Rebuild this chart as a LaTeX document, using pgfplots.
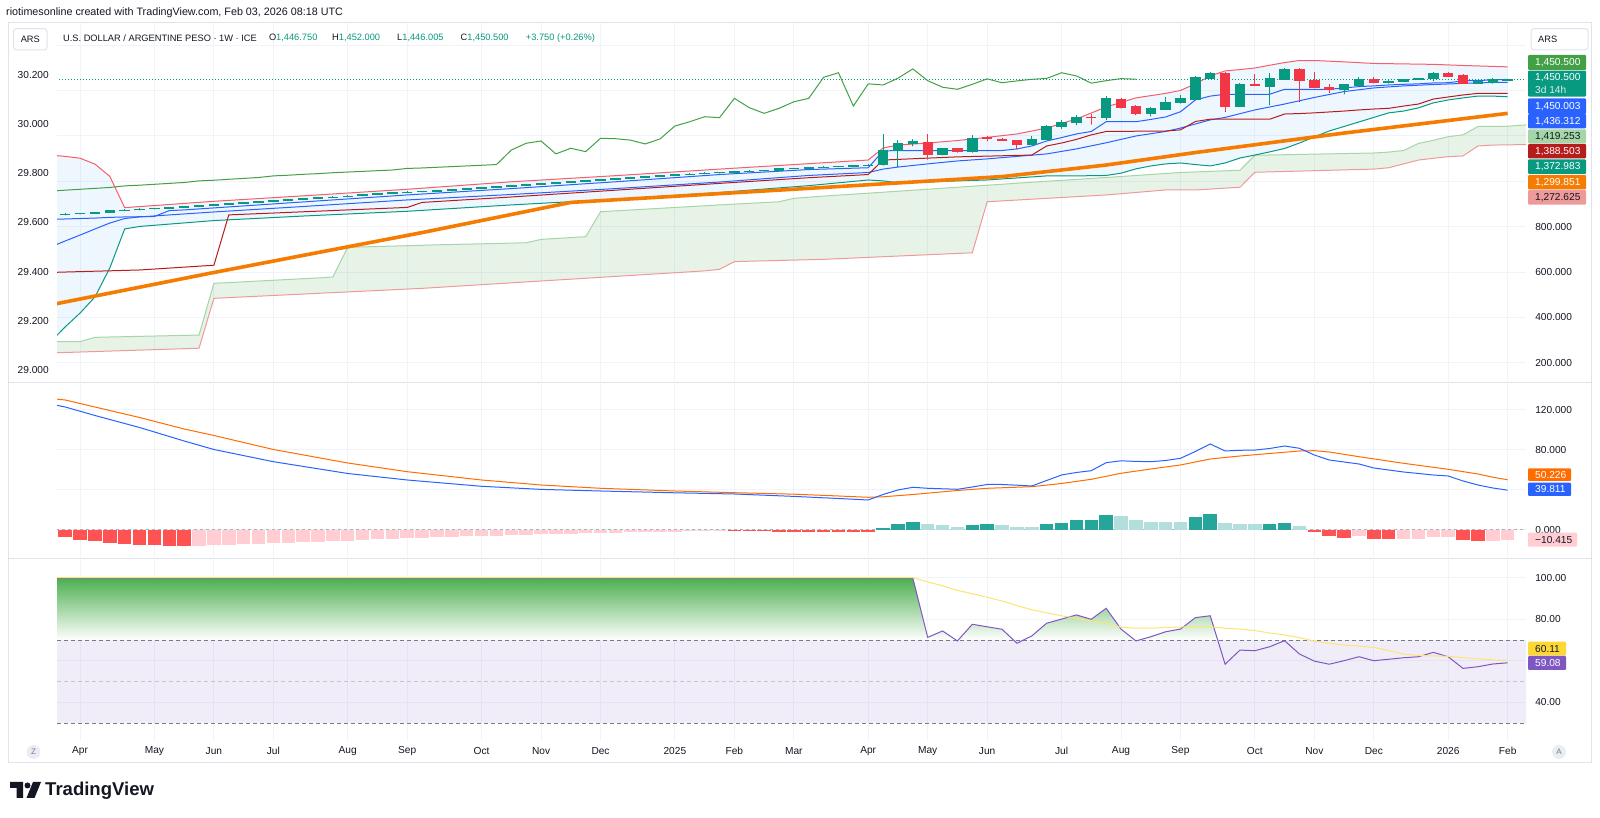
\documentclass[border=0pt]{standalone}
\usepackage{fontspec}
\setmainfont{Liberation Sans}
\usepackage{pgfplots}
\usepackage{pgfplotstable}
\pgfplotsset{compat=1.18}

\definecolor{tvtext}{HTML}{131722}
\definecolor{tvgrid}{HTML}{F0F3FA}
\definecolor{tvborder}{HTML}{E0E3EB}
\definecolor{upc}{HTML}{089981}
\definecolor{dnc}{HTML}{F23645}
\definecolor{tvblue}{HTML}{2962FF}
\definecolor{bbblue}{HTML}{2196F3}
\definecolor{kijun}{HTML}{B71C1C}
\definecolor{chikou}{HTML}{43A047}
\definecolor{spanA}{HTML}{A5D6A7}
\definecolor{spanB}{HTML}{EF9A9A}
\definecolor{smaorange}{HTML}{F57C00}
\definecolor{macdorange}{HTML}{FF6D00}
\definecolor{histup}{HTML}{26A69A}
\definecolor{histupl}{HTML}{B2DFDB}
\definecolor{histdn}{HTML}{FF5252}
\definecolor{histdnl}{HTML}{FFCDD2}
\definecolor{rsipurple}{HTML}{7E57C2}
\definecolor{rsiyellow}{HTML}{FDD835}
\definecolor{rsigreen}{HTML}{4CAF50}
\definecolor{lvlgray}{HTML}{787B86}

\newcommand{\tvfont}{\fontsize{10.2}{12}\selectfont}
\newcommand{\hdrfont}{\fontsize{9.3}{11}\selectfont}

% weekly candles, k = 0 is the week of 25 Mar 2024
\pgfplotstableread{
k o h l c
0 853 858.5 851.5 857
1 857 862.5 855.5 861
2 861 866.5 859.5 865
3 865 873.5 863.5 872
4 872 876.5 870.5 875
5 875 880.5 873.5 879
6 879 884.5 877.5 883
7 883 888.5 881.5 887
8 887 892.5 885.5 891
9 891 896.5 889.5 895
10 895 900.5 893.5 899
11 899 904.5 897.5 903
12 903 908.5 901.5 907
13 907 915.5 905.5 914
14 914 918.5 912.5 917
15 917 922.5 915.5 921
16 921 926.5 919.5 925
17 925 930.5 923.5 929
18 929 934.5 927.5 933
19 933 938.5 931.5 937
20 937 944.5 935.5 943
21 943 950.5 941.5 949
22 949 952.5 947.5 951
23 951 955.5 949.5 954
24 954 958.5 952.5 957
25 957 962.5 955.5 961
26 961 966.5 959.5 965
27 965 970.5 963.5 969
28 969 974.5 967.5 973
29 973 981.5 971.5 980
30 980 984.5 978.5 983
31 983 988.5 981.5 987
32 987 992.5 985.5 991
33 991 996.5 989.5 995
34 995 1003.5 993.5 1002
35 1002 1006.5 1000.5 1005
36 1005 1010.5 1003.5 1009
37 1009 1014.5 1007.5 1013
38 1013 1018.5 1011.5 1017
39 1017 1025.5 1015.5 1024
40 1024 1028.5 1022.5 1027
41 1027 1032.5 1025.5 1031
42 1031 1035.5 1029.5 1034
43 1034 1039.5 1032.5 1038
44 1038 1042.5 1036.5 1041
45 1041 1045.5 1039.5 1044
46 1044 1048.5 1042.5 1047
47 1047 1051.5 1045.5 1050
48 1050 1058.5 1048.5 1057
49 1057 1060.5 1055.5 1059
50 1059 1063.5 1057.5 1062
51 1062 1066.5 1060.5 1065
52 1065 1069.5 1063.5 1068
53 1068 1072.5 1066.5 1071
54 1071 1075.5 1069.5 1074
55 1074 1209 1070 1138
56 1135 1182 1065 1168
57 1168 1186 1156 1178
58 1172 1209 1097 1121
59 1121 1149 1116 1146
60 1146 1148 1128 1131
61 1131 1204 1128 1190
62 1194 1200 1178 1188
63 1188 1190 1180 1182
64 1182 1184 1141 1165
65 1165 1200 1162 1187
66 1186 1249 1183 1244
67 1241 1271 1234 1263
68 1259 1293 1249 1285
69 1285 1296 1252 1281
70 1281 1377 1271 1366
71 1363 1366 1322 1325
72 1332 1338 1293 1300
73 1300 1327 1288 1322
74 1318 1371 1315 1351
75 1347 1381 1345 1366
76 1362 1465 1360 1459
77 1455 1484 1452 1479
78 1479 1481 1307 1332
79 1332 1432 1330 1430
80 1430 1474 1421 1425
81 1421 1477 1337 1455
82 1450 1498 1448 1496
83 1496 1498 1351 1444
84 1447 1484 1412 1415
85 1418 1428 1391 1406
86 1406 1430 1385 1428
87 1425 1459 1421 1452
88 1452 1459 1433 1435
89 1435 1445 1433 1443
90 1442 1452 1440 1450
91 1452 1457 1450 1454
92 1455 1481 1444 1479
93 1479 1481 1462 1465
94 1469 1474 1430 1433
95 1433 1446 1430 1444
96 1436 1456 1432 1453
97 1446.75 1452 1446.005 1450.5
}\candles

% Bollinger bands (20)
\pgfplotstableread{
k v
-1 1116
0 1110
1 1102
2 1076
3 1022
4 884
10 912
16 936
23 965
30 998
37 1025
44 1054
50 1078
54 1094
55 1147
56 1160
58 1169
60 1180
62 1194
64 1209
66 1235
68 1275
70 1328
72 1368
74 1388
75 1401
76 1430
77 1465
78 1487
79 1493
80 1500
82 1524
83 1533
84 1533
86 1527
88 1520
90 1518
92 1516
94 1511
96 1507
97 1505
}\bbup

\pgfplotstableread{
k v
-1 710
0 737
1 763
2 790
3 816
4 836
5 843
10 865
16 889
23 918
30 942
37 968
44 997
50 1026
54 1039
55 1054
56 1063
58 1077
60 1090
62 1099
64 1110
66 1121
68 1143
70 1170
72 1200
74 1220
75 1235
76 1253
77 1271
78 1282
80 1315
82 1341
84 1370
86 1396
88 1412
90 1421
92 1427
94 1432
96 1436
97 1436.312
}\bbbasis

\pgfplotstableread{
k v
-1 291
0 358
1 419
2 490
3 618
4 790
5 801
10 827
16 847
23 868
30 896
37 921
44 951
50 981
54 1006
55 1002
56 994
58 997
60 1002
62 1006
64 1015
66 1024
68 1024
70 1026
71 1036
72 1055
73 1068
74 1077
75 1081
76 1074
77 1068
78 1081
79 1103
80 1116
81 1130
82 1145
83 1169
84 1196
85 1222
86 1242
87 1262
88 1282
89 1302
90 1310
91 1324
92 1346
93 1359
94 1368
95 1376
96 1376
97 1372.983
}\bblow

% band outline: upper band forward, lower band back
\pgfplotstableread{
k v
-1 1116
0 1110
1 1102
2 1076
3 1022
4 884
10 912
16 936
23 965
30 998
37 1025
44 1054
50 1078
54 1094
55 1147
56 1160
58 1169
60 1180
62 1194
64 1209
66 1235
68 1275
70 1328
72 1368
74 1388
75 1401
76 1430
77 1465
78 1487
79 1493
80 1500
82 1524
83 1533
84 1533
86 1527
88 1520
90 1518
92 1516
94 1511
96 1507
97 1505
97 1372.983
96 1376
95 1376
94 1368
93 1359
92 1346
91 1324
90 1310
89 1302
88 1282
87 1262
86 1242
85 1222
84 1196
83 1169
82 1145
81 1130
80 1116
79 1103
78 1081
77 1068
76 1074
75 1081
74 1077
73 1068
72 1055
71 1036
70 1026
68 1024
66 1024
64 1015
62 1006
60 1002
58 997
56 994
55 1002
54 1006
50 981
44 951
37 921
30 896
23 868
16 847
10 827
5 801
4 790
3 618
2 490
1 419
0 358
-1 291
}\bbpoly

% Ichimoku
\pgfplotstableread{
k v
-1 832
0 834
1 836
2 838
3 841
4 843
5 844
6 845
7 871
8 874
23 940
30 968
37 998
44 1030
50 1052
54 1060
55 1134
56 1136
63 1136
64 1143
65 1156
66 1178
67 1193
68 1209
69 1220
70 1263
72 1263
73 1273
74 1284
75 1307
76 1359
77 1376
78 1384
81 1384
82 1406
85 1406
86 1412
87 1418
88 1421
89 1425
90 1428
91 1430
92 1434
93 1435
94 1443
95 1445
96 1447
97 1450.003
}\tenkantab

\pgfplotstableread{
k v
-1 598
0 600
5 609
10 630
11 852
23 885
24 907
30 931
37 961
44 991
50 1016
54 1030
55 1094
60 1108
65 1116
66 1156
67 1169
68 1185
69 1205
70 1220
74 1222
75 1227
76 1264
77 1274
81 1274
82 1297
83 1299
84 1302
85 1306
86 1310
87 1315
88 1319
89 1322
90 1332
91 1341
92 1363
93 1372
94 1381
95 1388
96 1388.5
97 1388.503
}\kijuntab

\pgfplotstableread{
k v
-1 293
1 293
2 312
9 322
10 550
17 574
18 578
19 709
24 718
25 720
31 729
32 744
35 756
36 866
44 896
48 910
49 925
51 935
55 952
60 974
65 996
70 1017
75 1039
79 1049
80 1115
88 1125
89 1129
90 1136
91 1167
92 1181
93 1197
94 1205
95 1242
96 1243
97 1243
98 1248
99 1253
}\spanAtab

\pgfplotstableread{
k v
-1 243
9 264
10 484
24 528
43 605
44 612
45 646
51 656
61 685
62 910
70 940
74 962
76 962
79 974
80 1040
88 1054
89 1060
91 1094
93 1109
94 1112
95 1156
96 1160
99 1163
}\spanBtab

% cloud outline: leading span A forward, leading span B back
\pgfplotstableread{
k v
-1 293
1 293
2 312
9 322
10 550
17 574
18 578
19 709
24 718
25 720
31 729
32 744
35 756
36 866
44 896
48 910
49 925
51 935
55 952
60 974
65 996
70 1017
75 1039
79 1049
80 1115
88 1125
89 1129
90 1136
91 1167
92 1181
93 1197
94 1205
95 1242
96 1243
97 1243
98 1248
99 1253
99 1163
96 1160
95 1156
94 1112
93 1109
91 1094
89 1060
88 1054
80 1040
79 974
76 962
74 962
70 940
62 910
61 685
51 656
45 646
44 612
43 605
24 528
10 484
9 264
-1 243
}\cloudpoly

% long moving average
\pgfplotstableread{
k v
-1 455
10 598
24 774
34 907
51 973
63 1021
70 1072
76 1127
86 1213
97 1299.851
}\smatab

% MACD
\pgfplotstableread{
k v
-1 126
0 123
2 114.5
5 102.5
8 89
10 80.5
14 68.3
19 56.5
23 50
28 43.7
32 40.6
36 39
41 37.2
45 36
49 33.6
52 31.5
54 30
55 35.5
56 40
57 42.7
58 41.7
59 41.2
60 40.7
61 43
62 45.5
63 45.5
64 44.8
65 44
66 49.5
67 55
68 57.5
69 59.3
70 67.3
71 69.2
72 68.6
73 68.3
74 69.5
75 71.7
76 78.5
77 86
78 79
79 79.7
80 79.9
81 81.5
82 84
83 81.7
84 75
85 70
86 68
87 66
88 62
89 60
90 58
91 56.5
92 55
93 54
94 49
95 45
96 42
97 39.811
}\macdtab

\pgfplotstableread{
k v
-1 131.5
0 130
2 123
5 112.5
8 101
10 94.5
14 80.5
19 67
23 58.3
28 50
32 45
36 41.7
41 39
45 37.3
49 35.8
52 34
54 32.7
55 33.2
57 35.5
60 39.5
62 41.7
65 43.3
67 46.5
69 50.7
71 56.7
73 61
75 65
77 71
79 74
81 76.5
83 79
84 79.3
85 78
87 73.3
90 66.7
93 60.7
95 56
96 52.8
97 50.226
}\signaltab

% histogram: cls 1 rising above zero, 2 falling above zero, 3 falling below zero, 4 rising below zero
\pgfplotstableread{
k h cls
0 -7.3 3
1 -9.7 3
2 -11.3 3
3 -13 3
4 -14 3
5 -15 3
6 -15.5 3
7 -15.7 3
8 -15.9 3
9 -15.6 4
10 -15.3 4
11 -15 4
12 -14.3 4
13 -14 4
14 -13.3 4
15 -13 4
16 -12.3 4
17 -11.7 4
18 -11 4
19 -10.7 4
20 -10 4
21 -9.3 4
22 -8.7 4
23 -8.3 4
24 -7.7 4
25 -7.3 4
26 -6.7 4
27 -6.3 4
28 -6 4
29 -5.7 4
30 -5.3 4
31 -4.7 4
32 -4.3 4
33 -4 4
34 -3.7 4
35 -3.3 4
36 -3 4
37 -2.7 4
38 -2.3 4
39 -2 4
40 -1.9 4
41 -1.7 4
42 -1.3 4
43 -1.2 4
44 -1.0 4
45 -1.3 3
46 -1.4 3
47 -1.5 3
48 -1.6 3
49 -1.7 3
50 -1.8 3
51 -1.9 3
52 -2.0 3
53 -2.1 3
54 -2.2 3
55 2 1
56 6 1
57 8.3 1
58 5.7 2
59 4.7 2
60 3 2
61 4.7 1
62 5.7 1
63 4.7 2
64 3.2 2
65 3 2
66 5.7 1
67 7.3 1
68 10 1
69 10.2 1
70 14.7 1
71 13.7 2
72 10 2
73 8.3 2
74 8.2 2
75 8.1 2
76 13 1
77 15.7 1
78 7.3 2
79 6.3 2
80 5.7 2
81 6 1
82 6.7 1
83 4 2
84 -2 3
85 -6.3 3
86 -8 3
87 -6.3 4
88 -9 3
89 -9.1 3
90 -8.9 4
91 -8.8 4
92 -7 4
93 -6.8 4
94 -9.7 3
95 -11.2 3
96 -10.7 4
97 -10.415 4
}\histtab

% RSI (14) and its moving average
\pgfplotstableread{
k v
-1 99.8
57 99.8
58 71.3
59 74.4
60 69.6
61 77.6
62 76.4
63 75.2
64 68.5
65 72.0
66 78.1
67 80.1
68 82.1
69 80.0
70 85.3
71 75.3
72 69.6
73 71.6
74 74.0
75 75.3
76 80.8
77 81.7
78 58.4
79 65.2
80 64.9
81 66.8
82 69.7
83 63.3
84 59.9
85 58.4
86 60.1
87 62.0
88 60.1
89 60.8
90 61.5
91 62.0
92 64.1
93 62.0
94 56.4
95 57.2
96 58.5
97 59.08
}\rsitab

% part of the RSI above the 70 level, closed along that level
\pgfplotstableread{
k v
-1 70
-1 99.8
57 99.8
58 71.3
59 74.4
59.92 70
60.05 70
61 77.6
62 76.4
63 75.2
63.78 70
64.43 70
65 72
66 78.1
67 80.1
68 82.1
69 80
70 85.3
71 75.3
71.93 70
72.2 70
73 71.6
74 74
75 75.3
76 80.8
77 81.7
77.5 70
}\rsizone

\pgfplotstableread{
k v
-1 100
57 100
58 98
59 96.1
60 93.9
61 92.3
62 90.6
63 88.8
64 86.6
65 84.6
66 83.1
67 81.7
68 80.5
69 79.1
70 78.2
71 76.2
72 75.7
73 75.7
74 76.1
75 76.3
76 76.5
77 76.4
78 75.7
79 75.3
80 74.6
81 73.4
82 72.5
83 71.2
84 69.5
85 68.4
86 67.6
87 67.1
88 66.5
89 65
90 63.3
91 62.6
92 62.4
93 62.2
94 61.6
95 61
96 60.5
97 60.11
}\rsimatab

\pgfplotsset{
  tvpane/.style={
    scale only axis, width=1469bp, xmin=-0.551, xmax=98.24,
    anchor=south west,
    axis line style={draw=none}, tick style={draw=none}, major tick length=0pt,
    xtick={1,6,10,14,19,23,28,32,36,41,45,49,54,58,62,67,71,75,80,84,88,93,97},
    xticklabels={},
    grid=major, major grid style={draw=tvgrid, line width=1bp},
    ytick pos=right, yticklabel pos=right,
    yticklabel style={font=\tvfont, text=tvtext, anchor=west, xshift=9bp, inner sep=0pt},
  },
  % invisible carrier points for candle wicks
  hidden marks/.style={only marks, mark=*, mark size=0.01pt, mark options={draw=none, fill=none}},
}

% value box on the price scale: fill, text colour, top, bottom, right edge, text
\newcommand{\pbox}[6]{%
  \fill[#1, rounded corners=1bp] (1528,{817-#3}) rectangle (#5,{817-#4});
  \node[anchor=west, inner sep=0pt, text=#2, font=\tvfont] at (1535,{817-(#3+#4)/2}) {#6};}

\begin{document}
\begin{tikzpicture}[x=1bp,y=1bp]
\path[use as bounding box, fill=white] (0,0) rectangle (1600,817);

% chart frame and pane separators
\draw[tvborder, line width=1bp] (8.5,54) rectangle (1591,794);
\draw[tvborder, line width=1bp] (8.5,434) -- (1591,434);
\draw[tvborder, line width=1bp] (8.5,258) -- (1591,258);

% left overlay scale
\begin{axis}[scale only axis, width=1469bp, height=360bp, at={(57bp,434bp)}, anchor=south west,
  xmin=-0.551, xmax=98.24, ymin=28.947, ymax=30.4115,
  axis line style={draw=none}, tick style={draw=none}, major tick length=0pt,
  xtick=\empty, ytick={29,29.2,29.4,29.6,29.8,30,30.2},
  yticklabels={29.000,29.200,29.400,29.600,29.800,30.000,30.200},
  ytick pos=left, yticklabel pos=left,
  yticklabel style={font=\tvfont, text=tvtext, anchor=east, xshift=-8bp, inner sep=0pt}]
\addplot[draw=none] coordinates {(0,29.5)};
\end{axis}

% price pane
\begin{axis}[tvpane, at={(57bp,434bp)}, height=360bp, ymin=110.6, ymax=1698.5,
  ytick={200,400,600,800,1000,1200,1400,1600},
  yticklabels={200.000,400.000,600.000,800.000,{},{},{},{}}]
\addplot[fill=chikou, fill opacity=0.12, draw=none, forget plot] table[x=k,y=v]{\cloudpoly};
\addplot[fill=bbblue, fill opacity=0.07, draw=none, forget plot] table[x=k,y=v]{\bbpoly};
\addplot[spanB, line width=1bp] table[x=k,y=v]{\spanBtab};
\addplot[spanA, line width=1bp] table[x=k,y=v]{\spanAtab};
\addplot[upc, line width=1bp] table[x=k,y=v]{\bblow};
\addplot[dnc!80!white, line width=1bp] table[x=k,y=v]{\bbup};
\addplot[tvblue, line width=1bp] table[x=k,y=v]{\bbbasis};
\addplot[kijun, line width=1bp] table[x=k,y=v]{\kijuntab};
\addplot[tvblue, line width=1bp] table[x=k,y=v]{\tenkantab};
\addplot[smaorange, line width=3.6bp, line join=round] table[x=k,y=v]{\smatab};
\addplot[chikou, line width=1bp] table[x expr=\thisrow{k}-25, y=c]{\candles};
\addplot[upc, line width=0.9bp, dash pattern=on 1bp off 2bp] coordinates {(-1,1450.5) (99,1450.5)};
% candle wicks
\addplot[hidden marks, forget plot,
  restrict expr to domain={\thisrow{c}-\thisrow{o}}{0:100000},
  error bars/.cd, y dir=plus, y explicit, error mark=none,
  error bar style={draw=upc, line width=1bp, solid}]
  table[x=k, y=l, y error expr=\thisrow{h}-\thisrow{l}]{\candles};
\addplot[hidden marks, forget plot,
  restrict expr to domain={\thisrow{o}-\thisrow{c}}{0.0001:100000},
  error bars/.cd, y dir=plus, y explicit, error mark=none,
  error bar style={draw=dnc, line width=1bp, solid}]
  table[x=k, y=l, y error expr=\thisrow{h}-\thisrow{l}]{\candles};
% candle bodies
\addplot[only marks, mark=-, mark size=5.2bp, mark options={draw=upc, line width=1.4bp}, forget plot,
  restrict expr to domain={\thisrow{c}-\thisrow{o}}{0:100000},
  error bars/.cd, y dir=plus, y explicit, error mark=none,
  error bar style={draw=upc, line width=10.4bp, solid}]
  table[x=k, y=o, y error expr=\thisrow{c}-\thisrow{o}]{\candles};
\addplot[only marks, mark=-, mark size=5.2bp, mark options={draw=dnc, line width=1.4bp}, forget plot,
  restrict expr to domain={\thisrow{o}-\thisrow{c}}{0.0001:100000},
  error bars/.cd, y dir=plus, y explicit, error mark=none,
  error bar style={draw=dnc, line width=10.4bp, solid}]
  table[x=k, y=c, y error expr=\thisrow{o}-\thisrow{c}]{\candles};
\end{axis}

% MACD pane
\begin{axis}[tvpane, at={(57bp,258bp)}, height=176bp, ymin=-29, ymax=147,
  ytick={0,40,80,120}, yticklabels={0.000,40.000,80.000,120.000}]
\addplot[lvlgray!60, line width=1bp, dash pattern=on 3bp off 3bp] coordinates {(-1,0) (99,0)};
\addplot[ycomb, histup, line width=13.5bp, forget plot, restrict expr to domain={\thisrow{cls}}{0.5:1.5}] table[x=k,y=h]{\histtab};
\addplot[ycomb, histupl, line width=13.5bp, forget plot, restrict expr to domain={\thisrow{cls}}{1.5:2.5}] table[x=k,y=h]{\histtab};
\addplot[ycomb, histdn, line width=13.5bp, forget plot, restrict expr to domain={\thisrow{cls}}{2.5:3.5}] table[x=k,y=h]{\histtab};
\addplot[ycomb, histdnl, line width=13.5bp, forget plot, restrict expr to domain={\thisrow{cls}}{3.5:4.5}] table[x=k,y=h]{\histtab};
\addplot[macdorange, line width=1bp] table[x=k,y=v]{\signaltab};
\addplot[tvblue, line width=1bp] table[x=k,y=v]{\macdtab};
\end{axis}

% RSI pane
\begin{axis}[tvpane, at={(57bp,77bp)}, height=181bp, ymin=21.97, ymax=108.99,
  ytick={40,60,80,100}, yticklabels={40.00,60.00,80.00,100.00},
  xticklabels={Apr,May,Jun,Jul,Aug,Sep,Oct,Nov,Dec,2025,Feb,Mar,Apr,May,Jun,Jul,Aug,Sep,Oct,Nov,Dec,2026,Feb},
  xticklabel style={font=\tvfont, text=tvtext, anchor=center, yshift=-11bp}]
\addplot[fill=rsipurple, fill opacity=0.1, draw=none, forget plot] coordinates {(-1,30) (99,30) (99,70) (-1,70)};
\addplot[top color=rsigreen, bottom color=white, draw=none, forget plot] table[x=k,y=v]{\rsizone};
\addplot[lvlgray, line width=1bp, dash pattern=on 4bp off 3bp] coordinates {(-1,70) (99,70)};
\addplot[lvlgray!45, line width=1bp, dash pattern=on 4bp off 3bp] coordinates {(-1,50) (99,50)};
\addplot[lvlgray, line width=1bp, dash pattern=on 4bp off 3bp] coordinates {(-1,30) (99,30)};
\addplot[rsipurple, line width=1bp] table[x=k,y=v]{\rsitab};
\addplot[rsiyellow!70!white, line width=1bp] table[x=k,y=v]{\rsimatab};
\end{axis}

% scale value boxes
\pbox{chikou}{white}{55}{70}{1586}{1,450.500}
\fill[upc, rounded corners=1bp] (1528,{817-70.7}) rectangle (1586,{817-96.7});
\node[anchor=west, inner sep=0pt, text=white, font=\tvfont] at (1535,{817-77.5}) {1,450.500};
\node[anchor=west, inner sep=0pt, text=white!85!upc, font=\tvfont] at (1535,{817-89.7}) {3d 14h};
\pbox{tvblue}{white}{98.3}{114}{1586}{1,450.003}
\pbox{tvblue}{white}{114}{128.3}{1586}{1,436.312}
\pbox{spanA}{tvtext}{129.3}{143.3}{1586}{1,419.253}
\pbox{kijun}{white}{144}{158.3}{1586}{1,388.503}
\pbox{upc}{white}{159.3}{174}{1586}{1,372.983}
\pbox{smaorange}{white}{175}{189.3}{1586}{1,299.851}
\pbox{spanB}{tvtext}{190}{204.7}{1586}{1,272.625}
\pbox{macdorange}{white}{468.3}{481}{1571}{50.226}
\pbox{tvblue}{white}{482.7}{496}{1571}{39.811}
\pbox{histdnl}{tvtext}{532.7}{546.7}{1577}{−10.415}
\pbox{rsiyellow}{tvtext}{641.7}{655.7}{1566}{60.11}
\pbox{rsipurple}{white}{656}{670}{1566}{59.08}

% currency boxes
\draw[tvborder, fill=white, rounded corners=3bp, line width=1bp] (1531,767) rectangle (1588,788.4);
\node[anchor=west, inner sep=0pt, text=tvtext, font=\hdrfont] at (1538,778) {ARS};
\draw[tvborder, fill=white, rounded corners=3bp, line width=1bp] (13.5,767) rectangle (47,788.4);
\node[inner sep=0pt, text=tvtext, font=\hdrfont] at (30.3,778) {ARS};

% header
\node[anchor=west, inner sep=0pt, text=tvtext, font=\fontsize{10.8}{13}\selectfont] at (6,804) {riotimesonline created with TradingView.com, Feb 03, 2026 08:18 UTC};
\node[anchor=west, inner sep=0pt, text=tvtext, font=\hdrfont] at (63,779) {U.S. DOLLAR / ARGENTINE PESO · 1W · ICE};
\node[anchor=west, inner sep=0pt, text=tvtext, font=\hdrfont] at (268.8,779) {O\textcolor{upc}{1,446.750}};
\node[anchor=west, inner sep=0pt, text=tvtext, font=\hdrfont] at (332,779) {H\textcolor{upc}{1,452.000}};
\node[anchor=west, inner sep=0pt, text=tvtext, font=\hdrfont] at (397,779) {L\textcolor{upc}{1,446.005}};
\node[anchor=west, inner sep=0pt, text=tvtext, font=\hdrfont] at (460.5,779) {C\textcolor{upc}{1,450.500}};
\node[anchor=west, inner sep=0pt, text=upc, font=\hdrfont] at (525.7,779) {+3.750 (+0.26\%)};

% time-scale buttons
\fill[tvgrid!60!tvborder] (33.5,65) circle (7);
\node[inner sep=0pt, text=lvlgray, font=\fontsize{8}{9}\selectfont] at (33.5,65) {Z};
\fill[tvgrid!60!tvborder] (1559,65) circle (7);
\node[inner sep=0pt, text=lvlgray, font=\fontsize{8}{9}\selectfont] at (1559,65) {A};

% logo
\fill[tvtext] (10,35) -- (23,35) -- (23,19) -- (16.5,19) -- (16.5,29) -- (10,29) -- cycle;
\fill[tvtext] (27.5,31.5) circle (3);
\fill[tvtext] (33,35) -- (41,35) -- (34.5,19) -- (26.5,19) -- cycle;
\node[anchor=west, inner sep=0pt, text=tvtext, font=\fontsize{18.6}{21}\selectfont\bfseries] at (45,26.5) {TradingView};
\end{tikzpicture}
\end{document}
